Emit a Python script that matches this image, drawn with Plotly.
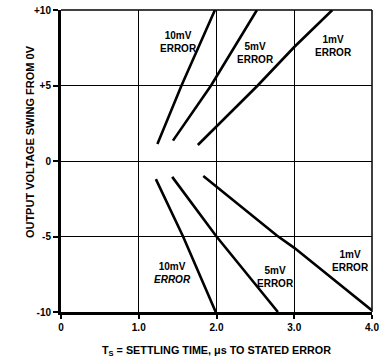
import plotly.graph_objects as go

# settling time (us) vs output voltage swing (V)
pos_10mv_x = [1.24, 1.55, 1.98]
pos_10mv_y = [1.13, 5.0, 10.0]
pos_5mv_x = [1.44, 1.93, 2.52]
pos_5mv_y = [1.35, 5.0, 10.0]
pos_1mv_x = [1.76, 2.0, 2.53, 3.0, 3.49]
pos_1mv_y = [1.06, 2.3, 5.0, 7.55, 10.0]

neg_10mv_x = [1.22, 1.57, 1.99]
neg_10mv_y = [-1.2, -5.0, -10.0]
neg_5mv_x = [1.43, 2.0, 2.79]
neg_5mv_y = [-1.05, -5.0, -10.0]
neg_1mv_x = [1.83, 2.78, 3.0, 4.0]
neg_1mv_y = [-1.0, -4.95, -5.75, -9.9]

x_ticks = [0, 1, 2, 3, 4]
x_ticklabels = ["0", "1.0", "2.0", "3.0", "4.0"]
y_ticks = [-10, -5, 0, 5, 10]
y_ticklabels = ["-10", "-5", "0", "+5", "+10"]

font = "Liberation Sans"

fig = go.Figure()
for xs, ys in [(pos_10mv_x, pos_10mv_y), (pos_5mv_x, pos_5mv_y), (pos_1mv_x, pos_1mv_y),
               (neg_10mv_x, neg_10mv_y), (neg_5mv_x, neg_5mv_y), (neg_1mv_x, neg_1mv_y)]:
    fig.add_trace(go.Scatter(x=xs, y=ys, mode="lines", line=dict(color="black", width=2.6),
                             showlegend=False, hoverinfo="skip"))

labels = [
    (1.51, 7.9, "10mV<br>ERROR"),
    (2.5, 7.15, "5mV<br>ERROR"),
    (3.5, 7.6, "1mV<br>ERROR"),
    (1.43, -7.4, "10mV<br><i>ERROR</i>"),
    (2.76, -7.7, "5mV<br>ERROR"),
    (3.72, -6.65, "1mV<br>ERROR"),
]
for x, y, t in labels:
    fig.add_annotation(x=x, y=y, text=t, showarrow=False,
                       font=dict(family=font, size=10, color="black", weight="bold"), align="center")

# y title sits a bit above centre in the original
fig.add_annotation(xref="paper", yref="paper", x=-0.125, y=0.563, text="OUTPUT VOLTAGE SWING FROM 0V",
                   textangle=-90, showarrow=False,
                   font=dict(family=font, size=11, color="black", weight="bold"))

fig.update_xaxes(range=[0, 4], tickvals=x_ticks, ticktext=x_ticklabels, automargin=False,
                 showgrid=True, gridcolor="black", gridwidth=1, zeroline=False,
                 showline=True, linecolor="black", linewidth=3, mirror=False,
                 ticks="outside", ticklen=4, tickwidth=2, tickcolor="black",
                 tickfont=dict(family=font, size=10, color="black", weight="bold"),
                 title=dict(text="T<sub>S</sub> = SETTLING TIME, μs TO STATED ERROR",
                            font=dict(family=font, size=10.8, color="black", weight="bold")))
fig.update_yaxes(range=[-10, 10], tickvals=y_ticks, ticktext=y_ticklabels, automargin=False,
                 showgrid=True, gridcolor="black", gridwidth=1, zeroline=False,
                 showline=True, linecolor="black", linewidth=3,
                 ticks="outside", ticklen=5, tickwidth=2, tickcolor="black",
                 tickfont=dict(family=font, size=10, color="black", weight="bold"))

# thin top/right frame
fig.add_shape(type="line", xref="paper", yref="paper", x0=0, x1=1, y0=1, y1=1, line=dict(color="black", width=1.5))
fig.add_shape(type="line", xref="paper", yref="paper", x0=1, x1=1, y0=0, y1=1, line=dict(color="black", width=1.5))

fig.update_layout(width=384, height=361, margin=dict(l=61, r=12, t=10, b=49),
                  plot_bgcolor="white", paper_bgcolor="white")

fig.write_html("out.html", config={"displayModeBar": False},
               post_script="document.body.style.margin='0px';")
